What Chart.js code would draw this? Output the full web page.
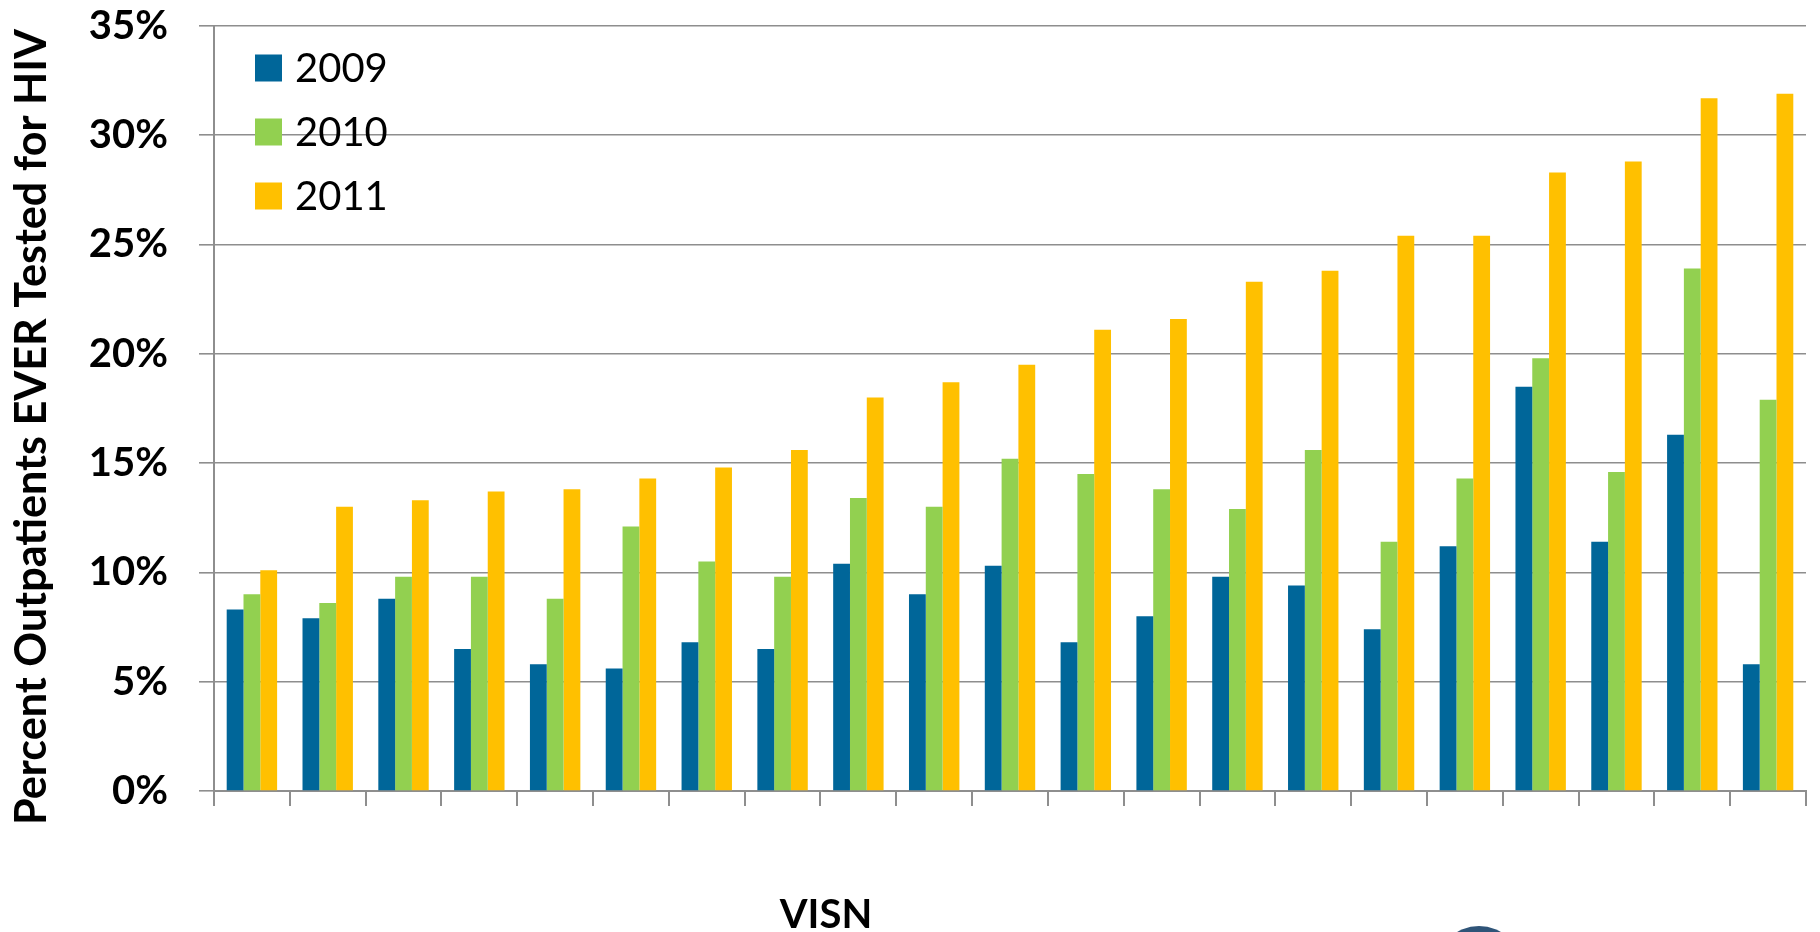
<!DOCTYPE html>
<html>
<head>
<meta charset="utf-8">
<script src="https://cdn.jsdelivr.net/npm/chart.js@4"></script>
<style>
  html, body { margin: 0; padding: 0; background: #ffffff; }
  #wrap { width: 1820px; height: 932px; position: relative; }
</style>
</head>
<body>
<div id="wrap"><canvas id="c"></canvas></div>
<script>
// ---- data ----
const categories = ['A','B','C','D','E','F','G','H','I','J','K','L','M','N','O','P','Q','R','S','T','U'];
const seriesNames = ['2009', '2010', '2011'];
const values2009 = [8.3, 7.9, 8.8, 6.5, 5.8, 5.6, 6.8, 6.5, 10.4, 9.0, 10.3, 6.8, 8.0, 9.8, 9.4, 7.4, 11.2, 18.5, 11.4, 16.3, 5.8];
const values2010 = [9.0, 8.6, 9.8, 9.8, 8.8, 12.1, 10.5, 9.8, 13.4, 13.0, 15.2, 14.5, 13.8, 12.9, 15.6, 11.4, 14.3, 19.8, 14.6, 23.9, 17.9];
const values2011 = [10.1, 13.0, 13.3, 13.7, 13.8, 14.3, 14.8, 15.6, 18.0, 18.7, 19.5, 21.1, 21.6, 23.3, 23.8, 25.4, 25.4, 28.3, 28.8, 31.7, 31.9];
const yTickValues = [0, 5, 10, 15, 20, 25, 30, 35];
const yTitle = 'Percent Outpatients EVER Tested for HIV';
const xTitle = 'VISN';

// ---- styles ----
const colors = ['#006699', '#92D050', '#FFC000'];
const gridColor = '#8e8e8e';
const FONT = 'Lato, "Open Sans", sans-serif';

const overlay = {
  id: 'overlay',
  afterDraw(chart) {
    const ctx = chart.ctx;
    ctx.save();
    // legend (inside plot, top-left)
    const ds = chart.data.datasets;
    ctx.font = '40px ' + FONT;
    ctx.textBaseline = 'middle';
    ctx.textAlign = 'left';
    ds.forEach((d, i) => {
      const cy = 68 + i * 64;
      ctx.fillStyle = d.backgroundColor;
      ctx.fillRect(255, cy - 13.5, 27, 27);
      ctx.fillStyle = '#000';
      ctx.fillText(d.label, 295, cy + 1);
    });
    // y axis title (rotated)
    let size = 44;
    ctx.font = 'bold ' + size + 'px ' + FONT;
    const w = ctx.measureText(yTitle).width;
    size = size * 796 / w;
    ctx.font = 'bold ' + size.toFixed(2) + 'px ' + FONT;
    ctx.translate(32, 427);
    ctx.rotate(-Math.PI / 2);
    ctx.textAlign = 'center';
    ctx.textBaseline = 'middle';
    ctx.fillStyle = '#000';
    ctx.fillText(yTitle, 0, 0);
    ctx.setTransform(1, 0, 0, 1, 0, 0);
    // x axis title
    ctx.font = 'bold 40px ' + FONT;
    ctx.textAlign = 'center';
    ctx.textBaseline = 'middle';
    ctx.fillText(xTitle, 826, 915);
    // partial logo at bottom edge
    ctx.beginPath();
    ctx.arc(1479, 969, 43, 0, Math.PI * 2);
    ctx.fillStyle = '#2f5478';
    ctx.fill();
    ctx.restore();
  }
};

new Chart(document.getElementById('c'), {
  type: 'bar',
  data: {
    labels: categories,
    datasets: [
      { label: seriesNames[0], data: values2009, backgroundColor: colors[0] },
      { label: seriesNames[1], data: values2010, backgroundColor: colors[1] },
      { label: seriesNames[2], data: values2011, backgroundColor: colors[2] }
    ]
  },
  options: {
    responsive: true,
    maintainAspectRatio: false,
    devicePixelRatio: 1,
    animation: false,
    layout: { padding: { top: 0, right: 14, left: 0, bottom: 0 } },
    datasets: { bar: { categoryPercentage: 0.665, barPercentage: 1.0 } },
    plugins: { legend: { display: false }, tooltip: { enabled: false } },
    scales: {
      x: {
        offset: true,
        grid: { display: true, drawOnChartArea: false, drawTicks: true, tickLength: 15, color: gridColor, lineWidth: 2, offset: true },
        border: { display: true, color: gridColor, width: 2 },
        ticks: { display: false },
        afterFit(scale) { scale.height = 141; }
      },
      y: {
        min: 0, max: 35,
        afterBuildTicks(scale) { scale.ticks = yTickValues.map(v => ({ value: v })); },
        grid: { color: gridColor, lineWidth: 1.6, tickLength: 15, drawTicks: true },
        border: { display: true, color: gridColor, width: 2 },
        ticks: {
          padding: 31,
          color: '#000',
          font: { family: FONT, size: 40, weight: 'bold', lineHeight: 1.0 },
          callback: v => v + '%'
        },
        afterFit(scale) {
          scale.width = 214;
          scale.paddingTop = 26;
          scale.paddingBottom = 0;
        }
      }
    }
  },
  plugins: [overlay]
});
</script>
</body>
</html>
